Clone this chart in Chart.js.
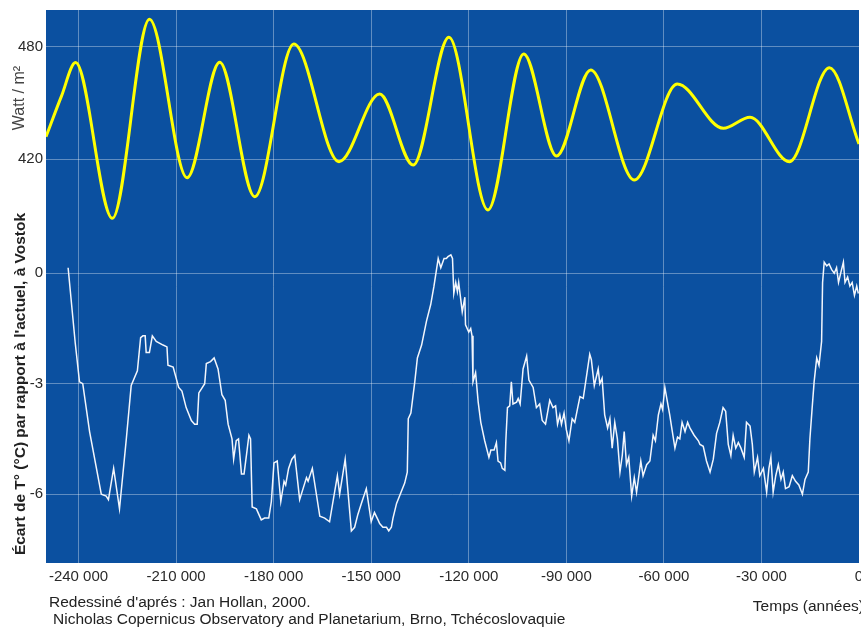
<!DOCTYPE html>
<html lang="fr">
<head>
<meta charset="utf-8">
<title>Insolation et température à Vostok</title>
<script src="https://cdn.jsdelivr.net/npm/chart.js@4.4.1/dist/chart.umd.min.js"></script>
<style>
  html, body { margin: 0; padding: 0; background: #fff; }
  #wrap { position: relative; width: 861px; height: 628px; overflow: hidden;
          font-family: "Liberation Sans", Arial, sans-serif; color: #222; }
  #chart { position: absolute; left: 0; top: 0; }
  .label { position: absolute; white-space: nowrap; font-size: 15.5px; line-height: 18px; }
  .vert { transform: translate(-50%, -50%) rotate(-90deg); }
</style>
</head>
<body>
<div id="wrap">
  <canvas id="chart" width="861" height="628"></canvas>
  <div class="label vert" style="left:19px; top:98px; font-size:16px; color:#444;">Watt / m²</div>
  <div class="label vert" style="left:20px; top:384px; font-weight:bold;">Écart de T° (°C) par rapport à l'actuel, à Vostok</div>
  <div class="label" style="left:49px; top:593px;">Redessiné d'aprés : Jan Hollan, 2000.</div>
  <div class="label" style="left:53px; top:610px;">Nicholas Copernicus Observatory and Planetarium, Brno, Tchécoslovaquie</div>
  <div class="label" style="right:-3px; top:597px;">Temps (années)</div>
</div>

<script>
/* ------------------------------
   Insolation (W/m²) & Vostok temperature, last 250 000 years
   ------------------------------ */

// Axis ticks
const xTicks = [-240000, -210000, -180000, -150000, -120000, -90000, -60000, -30000, 0];
const wattTicks = [420, 480];
const tempTicks = [-6, -3, 0];

// Insolation curve (yellow)
const wattYears = [
    -250000, -245300, -240900, -229600, -218200, -206600, -196600, -185800,
    -173800, -159900, -147400, -137100, -126100, -114100, -103100, -93000,
    -82500, -69100, -55900, -41700, -33500, -21400, -9100, 0
];
const wattValues = [
    431.9, 453.3, 471.5, 388.3, 494.6, 410.0, 471.7, 399.9,
    481.4, 418.6, 454.7, 416.8, 485.0, 392.8, 476.1, 421.6,
    467.6, 408.8, 460.1, 436.4, 442.3, 418.6, 468.8, 428.0
];

// Vostok temperature anomaly (white)
const tempYears = [
    -243200, -241000, -239700, -238700, -236600, -233000, -231500, -230800, -229200, -227400,
    -225300, -223800, -221900, -220900, -220200, -219500, -219200, -218200, -217300, -216100,
    -214000, -212800, -212500, -210900, -209200, -208200, -206900, -205300, -204300, -203500,
    -203000, -201200, -200700, -199400, -198300, -197100, -195900, -194900, -194000, -192800,
    -192300, -191500, -190800, -189900, -189100, -188300, -187600, -187100, -186600, -185300,
    -183800, -182800, -181500, -180700, -179900, -178900, -177800, -176800, -176300, -175400,
    -174400, -173500, -172000, -169900, -169400, -168100, -165800, -164300, -162800, -160400,
    -159700, -158000, -156100, -155100, -154100, -153000, -151500, -150000, -149000, -147900,
    -147400, -146400, -145300, -144600, -143800, -143300, -142200, -139700, -138900, -138600,
    -137800, -136600, -135800, -134500, -133000, -131700, -130700, -129400, -128600, -127600,
    -126900, -126400, -125500, -125000, -124600, -124000, -123500, -123100, -122000, -121200,
    -121000, -120000, -119400, -119000, -118700, -117900, -117100, -116300, -115100, -113800,
    -113200, -112200, -111500, -111000, -110200, -109700, -108900, -108600, -108100, -107400,
    -106900, -106400, -105300, -104800, -104200, -103300, -102200, -101500, -100200, -99200,
    -98200, -97400, -96400, -95100, -94100, -93300, -92700, -92000, -91500, -90700,
    -90000, -89200, -88200, -87400, -86600, -85800, -84800, -83800, -82800, -82300,
    -81400, -80200, -79700, -79000, -78200, -77300, -76600, -75900, -75100, -74300,
    -73500, -72800, -72200, -71500, -70800, -69900, -69100, -68400, -67700, -67100,
    -66400, -65300, -64300, -63300, -62600, -61700, -60900, -60400, -59700, -58900,
    -58200, -57400, -56600, -55800, -55100, -54400, -53500, -52700, -52000, -50700,
    -49400, -48900, -47900, -46900, -45800, -44800, -43800, -42800, -41800, -41000,
    -40200, -39400, -38700, -37900, -37100, -36300, -35300, -34600, -33500, -32800,
    -32200, -31200, -30500, -29400, -28400, -27700, -27100, -26400, -25600, -24800,
    -24000, -23300, -22600, -21500, -20500, -19500, -18500, -17400, -16600, -15600,
    -15100, -14400, -13800, -13000, -12300, -11500, -11200, -10700, -9900, -9200,
    -8400, -7600, -6900, -6300, -5500, -4800, -4300, -3500, -2800, -2100,
    -1400, -700, -200
];
const tempValues = [
    0.15, -1.9, -2.95, -3.0, -4.3, -6.0, -6.05, -6.15, -5.3, -6.4,
    -4.5, -3.05, -2.65, -1.75, -1.7, -1.7, -2.15, -2.15, -1.7, -1.85,
    -1.95, -2.0, -2.5, -2.55, -3.1, -3.2, -3.65, -4.0, -4.1, -4.1,
    -3.25, -3.0, -2.45, -2.4, -2.3, -2.6, -3.3, -3.45, -4.1, -4.5,
    -5.05, -4.55, -4.5, -5.45, -5.45, -4.9, -4.4, -4.5, -6.35, -6.4,
    -6.7, -6.65, -6.65, -6.2, -5.15, -5.1, -6.2, -5.65, -5.75, -5.3,
    -5.05, -4.95, -6.15, -5.55, -5.65, -5.3, -6.6, -6.65, -6.75, -5.5,
    -6.0, -5.05, -7.0, -6.9, -6.55, -6.25, -5.85, -6.75, -6.5, -6.7,
    -6.8, -6.9, -6.9, -7.0, -6.9, -6.65, -6.25, -5.7, -5.4, -3.95,
    -3.8, -2.95, -2.3, -1.95, -1.3, -0.85, -0.35, 0.4, 0.15, 0.4,
    0.4, 0.45, 0.5, 0.4, -0.55, -0.25, -0.5, -0.25, -1.05, -0.65,
    -1.4, -1.6, -1.5, -1.7, -2.95, -2.7, -3.5, -4.05, -4.55, -5.0,
    -4.8, -4.8, -4.6, -5.1, -5.15, -5.3, -5.35, -4.55, -3.65, -3.6,
    -2.95, -3.55, -3.5, -3.4, -3.55, -2.6, -2.25, -2.9, -3.1, -3.65,
    -3.55, -4.0, -4.1, -3.45, -3.65, -3.6, -4.1, -3.85, -4.1, -3.8,
    -4.25, -4.55, -3.95, -4.05, -3.7, -3.35, -3.4, -2.8, -2.2, -2.35,
    -3.05, -2.6, -3.0, -2.85, -3.85, -4.2, -3.95, -4.75, -4.05, -4.5,
    -5.4, -4.95, -4.3, -5.2, -5.0, -6.05, -5.55, -5.95, -5.5, -5.1,
    -5.5, -5.2, -5.1, -4.4, -4.55, -3.85, -3.55, -3.7, -3.1, -3.5,
    -3.85, -4.3, -4.75, -4.45, -4.5, -4.05, -4.3, -4.05, -4.2, -4.4,
    -4.55, -4.65, -4.7, -5.1, -5.4, -5.05, -4.35, -4.05, -3.65, -3.75,
    -4.65, -4.95, -4.4, -4.75, -4.6, -4.75, -5.0, -4.05, -4.15, -4.65,
    -5.4, -5.0, -5.5, -5.3, -5.95, -5.3, -5.0, -5.95, -5.5, -5.2,
    -5.6, -5.4, -5.85, -5.8, -5.5, -5.65, -5.75, -6.0, -5.6, -5.4,
    -4.5, -3.65, -2.95, -2.3, -2.5, -1.85, -0.25, 0.3, 0.2, 0.25,
    0.1, 0.0, 0.15, -0.25, 0.05, 0.3, -0.25, -0.1, -0.35, -0.25,
    -0.6, -0.35, -0.55
];

// ------------------------------
// Helpers
// ------------------------------
const TEXT = '#2a2a2a';
const GRID = 'rgba(255,255,255,0.35)';
const tickFont = { family: '"Liberation Sans", Arial, sans-serif', size: 15 };
const PLOT_LEFT = 46;

function toPoints(xs, ys) {
    return xs.map((x, i) => ({ x: x, y: ys[i] }));
}

function formatYears(v) {
    const s = Math.abs(v).toString().replace(/\B(?=(\d{3})+(?!\d))/g, ' ');
    return v < 0 ? '-' + s : s;
}

function fixedTicks(values) {
    return scale => { scale.ticks = values.map(v => ({ value: v })); };
}

// both y axes take no room in the layout, their labels share the left margin
function noRoom(scale) {
    scale.width = 0;
    scale.paddingTop = 0;
    scale.paddingBottom = 0;
}

// blue plot background
const plotBackground = {
    id: 'plotBackground',
    beforeDraw(chart) {
        const { ctx, chartArea: a } = chart;
        ctx.save();
        ctx.fillStyle = '#0b50a0';
        ctx.fillRect(a.left, a.top, a.right - a.left, a.bottom - a.top);
        ctx.restore();
    }
};

// give the y axes the left margin back so their labels are not clipped
const sharedLeftMargin = {
    id: 'sharedLeftMargin',
    afterLayout(chart) {
        ['y', 'yW'].forEach(id => {
            const s = chart.scales[id];
            s.left = 0;
            s.right = chart.chartArea.left;
        });
    }
};

// ------------------------------
// Chart
// ------------------------------
const chart = new Chart(document.getElementById('chart'), {
    type: 'line',
    data: {
        datasets: [
            {
                label: 'Watt / m²',
                data: toPoints(wattYears, wattValues),
                yAxisID: 'yW',
                borderColor: '#ffff00',
                borderWidth: 3,
                pointRadius: 0,
                cubicInterpolationMode: 'monotone'
            },
            {
                label: 'Écart de T° (°C)',
                data: toPoints(tempYears, tempValues),
                yAxisID: 'y',
                borderColor: '#f3f6fc',
                borderWidth: 1.5,
                pointRadius: 0,
                tension: 0
            }
        ]
    },
    options: {
        responsive: false,
        animation: false,
        devicePixelRatio: 1,
        layout: { padding: { left: PLOT_LEFT, right: 2, top: 10, bottom: 0 } },
        plugins: { legend: { display: false }, tooltip: { enabled: false } },
        scales: {
            x: {
                type: 'linear',
                min: -250000,
                max: 0,
                afterBuildTicks: fixedTicks(xTicks),
                afterFit: s => { s.height = 65; s.paddingLeft = 0; s.paddingRight = 0; },
                border: { display: false },
                grid: { color: GRID, drawTicks: false },
                ticks: {
                    padding: 5, maxRotation: 0, autoSkip: false,
                    color: TEXT, font: tickFont,
                    callback: v => formatYears(v)
                }
            },
            y: {
                type: 'linear',
                position: 'left',
                weight: 1,
                min: -7.87,
                max: 7.15,
                afterBuildTicks: fixedTicks(tempTicks),
                afterFit: noRoom,
                border: { display: false },
                grid: { color: GRID, drawTicks: false },
                ticks: { padding: 3, color: TEXT, font: tickFont }
            },
            yW: {
                type: 'linear',
                position: 'left',
                weight: 0,
                min: 204.2,
                max: 499.6,
                afterBuildTicks: fixedTicks(wattTicks),
                afterFit: noRoom,
                border: { display: false },
                grid: { color: GRID, drawTicks: false },
                ticks: { padding: 3, color: TEXT, font: tickFont }
            }
        }
    },
    plugins: [plotBackground, sharedLeftMargin]
});
</script>
</body>
</html>
